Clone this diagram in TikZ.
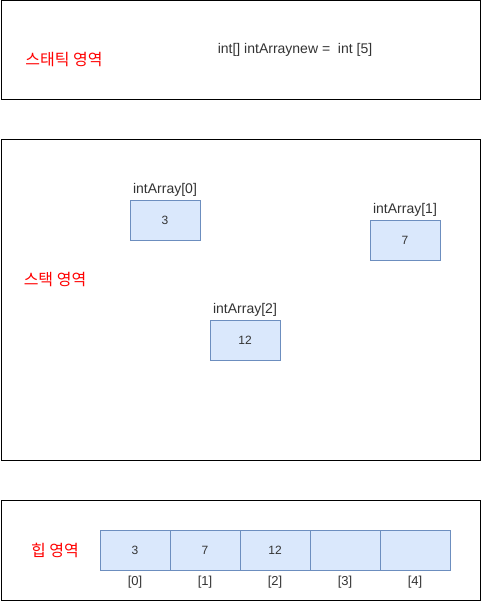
\documentclass[tikz,border=0pt]{standalone}
\usepackage{fontspec}
\setmainfont{Liberation Sans}
\newfontfamily\kor{Noto Sans CJK KR}
\usetikzlibrary{positioning}
\definecolor{cellfill}{HTML}{DAE8FC}
\definecolor{celldraw}{HTML}{6C8EBF}
\definecolor{txt}{HTML}{333333}
\tikzset{area/.style={draw=black, line width=1pt},
 cell/.style={draw=celldraw, fill=cellfill, line width=.8pt, minimum width=70pt,
  minimum height=40pt, inner sep=0pt, text=txt, font=\fontsize{12}{14}\selectfont},
 zone/.style={text=red, font=\kor\fontsize{16}{18}\selectfont, inner sep=0pt},
 tag/.style={text=txt, font=\fontsize{14}{16}\selectfont, inner sep=0pt},
 idx/.style={text=txt, font=\fontsize{13}{15}\selectfont, inner sep=0pt},
 }

\begin{document}
\begin{tikzpicture}[x=1pt, y=-1pt]
        \useasboundingbox (0,0) rectangle (491,601);
        \draw[area] (1,1) rectangle (480,100);
        \draw[area] (1,140) rectangle (480,460);
        \draw[area] (1,500) rectangle (480,600);
        \node[zone] (static) at (64,60) {스태틱 영역};
        \node[zone] (stack) at (55,280) {스택 영역};
        \node[zone] (heap) at (55,550) {힙 영역};
        \node[tag] (decl) at (295,50) {int[] intArraynew =\ \ int [5]};
        \node[cell] (v0) at (165,220) {3};
        \node[cell] (v1) at (405,240) {7};
        \node[cell] (v2) at (245,340) {12};
        \node[tag, above=3pt of v0] (n0) {intArray[0]};
        \node[tag, above=3pt of v1] (n1) {intArray[1]};
        \node[tag, above=3pt of v2] (n2) {intArray[2]};
        \foreach \i/\v in {0/3, 1/7, 2/12, 3/, 4/} {
            \node[cell] (h\i) at (135+\i*70, 550) {\v};
            \node[idx, below=5pt of h\i] (i\i) {[\i]};
        }
    \end{tikzpicture}
\end{document}
